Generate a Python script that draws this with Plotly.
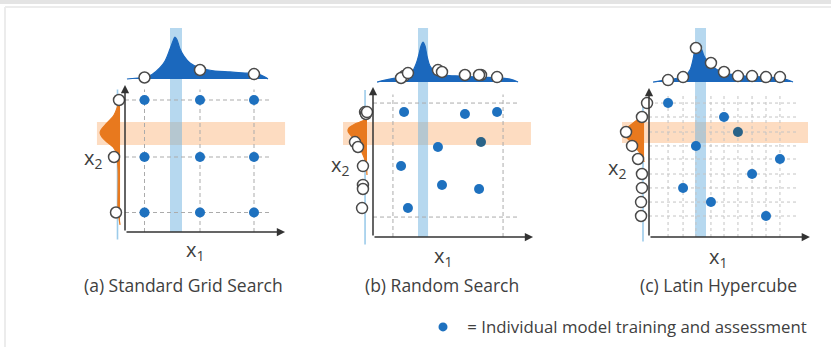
import plotly.graph_objects as go

W, H = 831, 347
SCALE = 150  # pixels per unit of parameter space

FONT = "Open Sans"
TEXT = "#404040"
DOT_BLUE = "#1e71bf"
DOT_IN_BAND = "#2a6388"
DENS_BLUE = "#1b68bd"
DENS_ORANGE = "#e8791e"
BAND_BLUE = "rgba(110,178,224,0.50)"
BAND_ORANGE = "rgba(250,182,125,0.48)"
GUIDE_BLUE = "#9ccbea"
GRID = "#ababab"
GRID_FINE = "#c4c4c4"
AXIS = "#333333"

# ---------------- (a) Standard Grid Search ----------------
a_grid_x1 = [0.13, 0.50, 0.86]
a_grid_x2 = [0.13, 0.50, 0.88]
a_top_circle_h = [0.010, 0.060, 0.033]
a_left_circle_x = [-0.060, -0.073, -0.040]
a_top_dens_x = [0.013, 0.067, 0.127, 0.18, 0.233, 0.267, 0.30, 0.32, 0.333, 0.347,
                0.367, 0.393, 0.433, 0.50, 0.60, 0.70, 0.80, 0.887, 0.933, 0.953]
a_top_dens_h = [0.0, 0.005, 0.010, 0.030, 0.075, 0.12, 0.20, 0.253, 0.28, 0.26,
                0.20, 0.153, 0.107, 0.073, 0.053, 0.047, 0.040, 0.033, 0.013, 0.0]
a_left_dens_y = [0.913, 0.88, 0.827, 0.78, 0.747, 0.713, 0.68, 0.66, 0.633, 0.60,
                 0.567, 0.533, 0.50, 0.413, 0.28, 0.147, 0.047]
a_left_dens_w = [0.0, 0.007, 0.020, 0.040, 0.067, 0.10, 0.127, 0.133, 0.12, 0.087,
                 0.047, 0.027, 0.020, 0.013, 0.013, 0.013, 0.0]
a_band_x1 = [0.30, 0.38]
a_band_x2 = [0.58, 0.733]

# ---------------- (b) Random Search ----------------
b_x1 = [0.207, 0.613, 0.827, 0.720, 0.433, 0.187, 0.460, 0.707, 0.233]
b_x2 = [0.833, 0.820, 0.833, 0.633, 0.600, 0.473, 0.347, 0.320, 0.193]
b_top_circle_h = [0.040, 0.047, 0.033, 0.047, 0.080, 0.027, 0.067, 0.047, 0.060]
b_left_circle_x = [-0.053, -0.047, -0.040, -0.120, -0.100, -0.067, -0.067, -0.067, -0.073]
b_top_dens_x = [0.027, 0.08, 0.147, 0.213, 0.26, 0.287, 0.307, 0.32, 0.333, 0.347,
                0.36, 0.38, 0.413, 0.48, 0.58, 0.713, 0.847, 0.913, 0.967]
b_top_dens_h = [0.0, 0.013, 0.027, 0.040, 0.067, 0.12, 0.187, 0.24, 0.267, 0.24,
                0.173, 0.107, 0.067, 0.047, 0.040, 0.033, 0.027, 0.020, 0.0]
b_left_dens_y = [0.793, 0.773, 0.753, 0.727, 0.707, 0.68, 0.647, 0.607, 0.567, 0.527,
                 0.48, 0.413]
b_left_dens_w = [0.0, 0.030, 0.080, 0.120, 0.127, 0.110, 0.080, 0.055, 0.035, 0.018,
                 0.006, 0.0]
b_guides_x1 = [0.133, 0.867]
b_guides_x2 = [0.133, 0.893]
b_band_x1 = [0.30, 0.367]
b_band_x2 = [0.613, 0.767]

# ---------------- (c) Latin Hypercube ----------------
c_cols = [0.127, 0.227, 0.313, 0.413, 0.500, 0.593, 0.687, 0.780, 0.873]
c_rows = [0.893, 0.800, 0.700, 0.607, 0.520, 0.420, 0.327, 0.233, 0.140]
c_x1 = [0.127, 0.500, 0.593, 0.313, 0.873, 0.687, 0.227, 0.413, 0.780]
c_x2 = [0.893, 0.800, 0.700, 0.607, 0.520, 0.420, 0.327, 0.233, 0.140]
c_top_circle_h = [0.013, 0.033, 0.227, 0.127, 0.067, 0.040, 0.040, 0.033, 0.033]
c_left_circle_x = [-0.013, -0.047, -0.153, -0.113, -0.073, -0.047, -0.047, -0.053, -0.053]
c_top_dens_x = [0.027, 0.107, 0.193, 0.247, 0.273, 0.293, 0.307, 0.327, 0.347, 0.367,
                0.393, 0.427, 0.473, 0.54, 0.64, 0.773, 0.907, 0.96]
c_top_dens_h = [0.0, 0.013, 0.027, 0.047, 0.080, 0.147, 0.213, 0.247, 0.227, 0.173,
                0.133, 0.100, 0.073, 0.053, 0.040, 0.033, 0.020, 0.0]
c_left_dens_y = [0.833, 0.793, 0.753, 0.713, 0.687, 0.66, 0.627, 0.593, 0.56, 0.527, 0.50]
c_left_dens_w = [0.0, 0.033, 0.080, 0.127, 0.133, 0.113, 0.080, 0.053, 0.027, 0.007, 0.0]
c_band_x1 = [0.307, 0.38]
c_band_x2 = [0.627, 0.767]

captions = ["(a) Standard Grid Search", "(b) Random Search", "(c) Latin Hypercube"]
legend_text = "\u00a0= Individual model training and assessment"

panels = [
    dict(dots_x=[x for y in a_grid_x2 for x in a_grid_x1],
         dots_y=[y for y in a_grid_x2 for x in a_grid_x1],
         top_cx=a_grid_x1, top_ch=a_top_circle_h,
         left_cy=a_grid_x2, left_cx=a_left_circle_x,
         top_dx=a_top_dens_x, top_dh=a_top_dens_h,
         left_dy=a_left_dens_y, left_dw=a_left_dens_w,
         vgrid=a_grid_x1, hgrid=a_grid_x2,
         band_x1=a_band_x1, band_x2=a_band_x2,
         origin=(125, 232), box=(70, 302, 15, 305), tip=(1.067, 0.98),
         hline_to=0.98, vline_to=0.95, top_base=1.02, left_base=-0.033,
         guide_x=-0.05, guide_y=(-0.05, 0.95), blue_span=(0.0, 1.36),
         orange_span=(-0.187, 1.067), x1_lab=(0.467, -0.125), x2_lab=(-0.215, 0.49),
         caption_px=(183, 285), dash="4px,3px", grid_color=GRID),
    dict(dots_x=b_x1, dots_y=b_x2,
         top_cx=b_x1, top_ch=b_top_circle_h,
         left_cy=b_x2, left_cx=b_left_circle_x,
         top_dx=b_top_dens_x, top_dh=b_top_dens_h,
         left_dy=b_left_dens_y, left_dw=b_left_dens_w,
         vgrid=b_guides_x1, hgrid=b_guides_x2,
         band_x1=b_band_x1, band_x2=b_band_x2,
         origin=(373, 237), box=(315, 548, 15, 305), tip=(1.067, 1.0),
         hline_to=0.98, vline_to=0.95, top_base=1.033, left_base=-0.04,
         guide_x=-0.053, guide_y=(-0.05, 0.98), blue_span=(0.0, 1.393),
         orange_span=(-0.2, 1.053), x1_lab=(0.467, -0.13), x2_lab=(-0.22, 0.48),
         caption_px=(442, 285), dash="4px,3px", grid_color=GRID),
    dict(dots_x=c_x1, dots_y=c_x2,
         top_cx=c_cols, top_ch=c_top_circle_h,
         left_cy=c_rows, left_cx=c_left_circle_x,
         top_dx=c_top_dens_x, top_dh=c_top_dens_h,
         left_dy=c_left_dens_y, left_dw=c_left_dens_w,
         vgrid=c_cols, hgrid=c_rows,
         band_x1=c_band_x1, band_x2=c_band_x2,
         origin=(649, 237), box=(592, 829, 15, 305), tip=(1.073, 0.993),
         hline_to=1.0, vline_to=0.96, top_base=1.033, left_base=-0.033,
         guide_x=-0.04, guide_y=(-0.03, 0.92), blue_span=(0.0, 1.393),
         orange_span=(-0.18, 1.06), x1_lab=(0.46, -0.135), x2_lab=(-0.213, 0.46),
         caption_px=(718, 285), dash="3px,3px", grid_color=GRID_FINE),
]

fig = go.Figure()
annotations = []
layout_axes = {}


def common(xa, ya):
    return dict(xaxis=xa, yaxis=ya, hoverinfo="skip", showlegend=False)


for i, p in enumerate(panels):
    n = "" if i == 0 else str(i + 1)
    xa, ya = "x" + n, "y" + n
    ox, oy = p["origin"]
    left, right, top, bottom = p["box"]
    layout_axes["xaxis" + n] = dict(domain=[left / W, right / W],
                                    range=[(left - ox) / SCALE, (right - ox) / SCALE],
                                    visible=False, fixedrange=True, anchor=ya)
    layout_axes["yaxis" + n] = dict(domain=[1 - bottom / H, 1 - top / H],
                                    range=[(oy - bottom) / SCALE, (oy - top) / SCALE],
                                    visible=False, fixedrange=True, anchor=xa)

    # highlighted bands
    bx0, bx1 = p["band_x1"]
    by0, by1 = p["blue_span"]
    ox0, ox1 = p["orange_span"]
    oy0, oy1 = p["band_x2"]
    fig.add_trace(go.Scatter(x=[ox0, ox1, ox1, ox0, ox0], y=[oy0, oy0, oy1, oy1, oy0],
                             mode="lines", fill="toself", fillcolor=BAND_ORANGE,
                             line=dict(width=0), **common(xa, ya)))
    fig.add_trace(go.Scatter(x=[bx0, bx1, bx1, bx0, bx0], y=[by0, by0, by1, by1, by0],
                             mode="lines", fill="toself", fillcolor=BAND_BLUE,
                             line=dict(width=0), **common(xa, ya)))

    # dashed guide grid
    gx, gy = [], []
    for v in p["vgrid"]:
        gx += [v, v, None]
        gy += [0, p["vline_to"], None]
    for h in p["hgrid"]:
        gx += [0, p["hline_to"], None]
        gy += [h, h, None]
    fig.add_trace(go.Scatter(x=gx, y=gy, mode="lines",
                             line=dict(color=p["grid_color"], width=1, dash=p["dash"]),
                             **common(xa, ya)))

    # evaluated configurations
    colors = [DOT_IN_BAND if oy0 <= y <= oy1 else DOT_BLUE for y in p["dots_y"]]
    fig.add_trace(go.Scatter(x=p["dots_x"], y=p["dots_y"], mode="markers",
                             marker=dict(size=10, color=colors, line=dict(width=0)),
                             xaxis=xa, yaxis=ya, hoverinfo="skip",
                             name=legend_text, showlegend=False))

    # marginal guide line for x2
    fig.add_trace(go.Scatter(x=[p["guide_x"], p["guide_x"]], y=list(p["guide_y"]),
                             mode="lines", line=dict(color=GUIDE_BLUE, width=1.6),
                             **common(xa, ya)))

    # marginal densities
    tb = p["top_base"]
    fig.add_trace(go.Scatter(x=p["top_dx"], y=[tb + h for h in p["top_dh"]],
                             mode="lines", fill="toself", fillcolor=DENS_BLUE,
                             line=dict(color=DENS_BLUE, width=1.2, shape="spline"),
                             **common(xa, ya)))
    lb = p["left_base"]
    fig.add_trace(go.Scatter(x=[lb - w for w in p["left_dw"]], y=p["left_dy"],
                             mode="lines", fill="toself", fillcolor=DENS_ORANGE,
                             line=dict(color=DENS_ORANGE, width=1.2, shape="spline"),
                             **common(xa, ya)))

    # marginal samples
    circle = dict(size=11, color="white", line=dict(color="#4a4a4a", width=1.5))
    fig.add_trace(go.Scatter(x=p["top_cx"], y=[tb + h for h in p["top_ch"]],
                             mode="markers", marker=circle, **common(xa, ya)))
    fig.add_trace(go.Scatter(x=p["left_cx"], y=p["left_cy"],
                             mode="markers", marker=circle, **common(xa, ya)))

    # axes with arrow heads
    tx, ty = p["tip"]
    for hx, hy in [(tx, 0), (0, ty)]:
        annotations.append(dict(x=hx, y=hy, ax=0, ay=0, xref=xa, yref=ya,
                                axref=xa, ayref=ya, text="", showarrow=True,
                                arrowhead=2, arrowsize=1.1, arrowwidth=1.5,
                                arrowcolor=AXIS))
    for (lx, ly), lab in [(p["x1_lab"], "x<sub>1</sub>"), (p["x2_lab"], "x<sub>2</sub>")]:
        annotations.append(dict(x=lx, y=ly, xref=xa, yref=ya, text=lab,
                                showarrow=False, xanchor="center", yanchor="middle",
                                font=dict(family=FONT, size=20, color=TEXT)))
    cx, cy = p["caption_px"]
    annotations.append(dict(x=cx / W, y=1 - cy / H, xref="paper", yref="paper",
                            text=captions[i], showarrow=False,
                            xanchor="center", yanchor="middle",
                            font=dict(family=FONT, size=17.5, color=TEXT)))

# legend entry for the blue markers
fig.add_trace(go.Scatter(x=[None], y=[None], mode="markers", name=legend_text,
                         marker=dict(size=9, color=DOT_BLUE), showlegend=True,
                         xaxis="x3", yaxis="y3", hoverinfo="skip"))

shapes = [
    dict(type="rect", xref="paper", yref="paper", x0=0, x1=1, y0=1 - 4 / H, y1=1,
         fillcolor="#e4e4e4", line=dict(width=0), layer="below"),
    dict(type="line", xref="paper", yref="paper", x0=5 / W, x1=1, y0=1 - 7 / H,
         y1=1 - 7 / H, line=dict(color="#ececec", width=2), layer="below"),
    dict(type="line", xref="paper", yref="paper", x0=5 / W, x1=5 / W, y0=0,
         y1=1 - 7 / H, line=dict(color="#ececec", width=2), layer="below"),
]

fig.update_layout(
    width=W, height=H, margin=dict(l=0, r=0, t=0, b=0),
    paper_bgcolor="white", plot_bgcolor="rgba(0,0,0,0)",
    annotations=annotations, shapes=shapes, showlegend=True,
    legend=dict(x=423 / W, y=1 - 327 / H, xanchor="left", yanchor="middle",
                font=dict(family=FONT, size=16.8, color=TEXT),
                bgcolor="rgba(0,0,0,0)", borderwidth=0, itemwidth=30),
    **layout_axes,
)

fig.write_html("out.html")
